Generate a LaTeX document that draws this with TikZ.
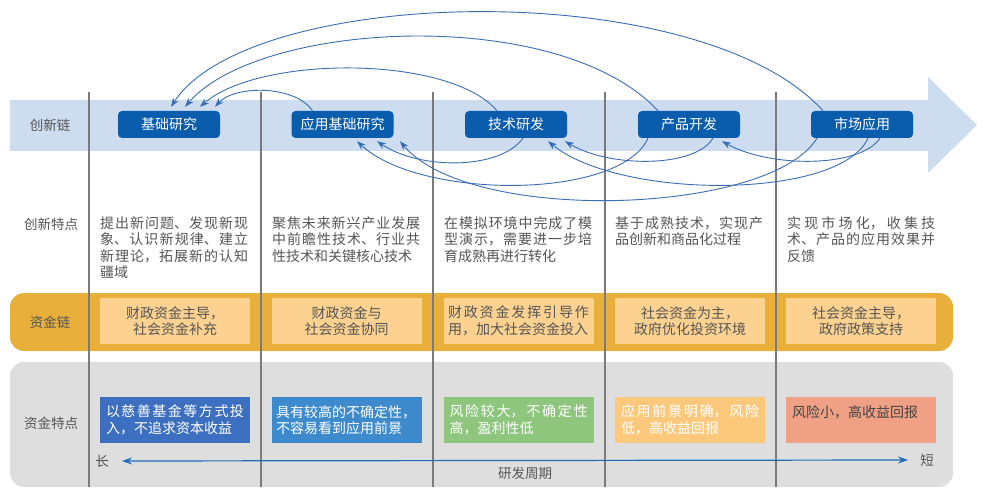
\documentclass[tikz,border=0pt]{standalone}
\usepackage{fontspec}
\setmainfont{Noto Sans CJK SC}
\usetikzlibrary{arrows.meta}
\XeTeXlinebreaklocale "zh"
\XeTeXlinebreakskip=0pt plus 2pt\relax
\tolerance=10000
\hbadness=10000
\hfuzz=3pt
\newcommand\cjknostretch{\XeTeXlinebreakskip=0pt\relax}
\newcommand\cjkstretch{\XeTeXlinebreakskip=0pt plus 2pt\relax}
\definecolor{innoblue}{HTML}{0A5CAD}
\definecolor{bandblue}{HTML}{CDDCEE}
\definecolor{fundorange}{HTML}{E8B03B}
\definecolor{fundlight}{HTML}{FDD290}
\definecolor{graybg}{HTML}{DEDEDE}
\definecolor{vline}{HTML}{7A7A7A}
\definecolor{textgray}{HTML}{555555}
\definecolor{curveblue}{HTML}{3A6DB4}
\definecolor{axisblue}{HTML}{1F6DB8}
\definecolor{fa}{HTML}{3C6FBF}
\definecolor{fb}{HTML}{3D8BCC}
\definecolor{fc}{HTML}{8EC67D}
\definecolor{fd}{HTML}{FCC97C}
\definecolor{fe}{HTML}{F0A185}
\tikzset{
  innobox/.style={fill=innoblue, text=white, rounded corners=4pt, minimum width=102pt,
    minimum height=27pt, inner sep=0pt, font=\fontsize{14}{16.5}\selectfont\cjknostretch},
  rowlabel/.style={text=textgray, inner sep=0pt, font=\fontsize{13.5}{16}\selectfont\cjknostretch},
  coltext/.style={anchor=north west, text width=148pt, align=justify, inner sep=0pt,
    text=textgray, font=\fontsize{14}{16.5}\selectfont\cjkstretch},
  fundbox/.style={fill=fundlight, minimum width=150pt, minimum height=46pt, text width=141pt,
    inner xsep=4.5pt, inner ysep=0pt, align=center, text=textgray,
    font=\fontsize{14}{16.5}\selectfont\cjknostretch},
  fundjust/.style={align=justify, font=\fontsize{14}{16.5}\selectfont\cjkstretch},
  featbox/.style={minimum width=150pt, minimum height=46pt, text width=138pt,
    inner xsep=6pt, inner ysep=0pt, align=justify, font=\fontsize{14}{16.5}\selectfont\cjkstretch},
  flow/.style={draw=curveblue, line width=0.9pt, -{Stealth[length=9pt,width=6.5pt,fill=axisblue]}},
  axisarrow/.style={draw=axisblue, line width=1.2pt, {Stealth[length=10pt,width=7pt]}-{Stealth[length=10pt,width=7pt]}},
  sep/.style={draw=vline, line width=1.1pt}
}
\begin{document}
\begin{tikzpicture}[x=1pt,y=-1pt]
\useasboundingbox (0,0) rectangle (983,500);
% bands
\fill[bandblue] (10,100) -- (928,100) -- (928,77) -- (977,125) -- (928,173) -- (928,151) -- (10,151) -- cycle;
\fill[fundorange, rounded corners=14pt] (10,293) rectangle (953,351);
\fill[graybg, rounded corners=14pt] (10,362) rectangle (953,487);
% separators
\foreach \x in {89,261,433,605,776} \draw[sep] (\x,92) -- (\x,487);
% row labels
\node[rowlabel] (l1) at (50,125) {创新链};
\node[rowlabel] (l2) at (51,224) {创新特点};
\node[rowlabel] (l3) at (50,322) {资金链};
\node[rowlabel] (l4) at (51,423) {资金特点};
% innovation chain
\node[innobox] (n1) at (169,124.5) {基础研究};
\node[innobox] (n2) at (342.5,124.5) {应用基础研究};
\node[innobox] (n3) at (516,124.5) {技术研发};
\node[innobox] (n4) at (689,124.5) {产品开发};
\node[innobox] (n5) at (862,124.5) {市场应用};
% innovation features
\node[coltext] (c1) at (100,216) {提出新问题、发现新现象、认识新规律、建立新理论，拓展新的认知疆域};
\node[coltext] (c2) at (272,216) {聚焦未来新兴产业发展中前瞻性技术、行业共性技术和关键核心技术};
\node[coltext] (c3) at (444,216) {在模拟环境中完成了模型演示，需要进一步培育成熟再进行转化};
\node[coltext] (c4) at (615,216) {基于成熟技术，实现产品创新和商品化过程};
\node[coltext] (c5) at (787,216) {实现市场化，收集技术、产品的应用效果并反馈};
% funding chain
\node[fundbox] (f1) at (175,321) {财政资金主导，\\社会资金补充};
\node[fundbox] (f2) at (346.5,321) {财政资金与\\社会资金协同};
\node[fundbox, fundjust] (f3) at (518.5,321) {财政资金发挥引导作用，加大社会资金投入};
\node[fundbox] (f4) at (690,321) {社会资金为主，\\政府优化投资环境};
\node[fundbox] (f5) at (861,321) {社会资金主导，\\政府政策支持};
% funding features
\node[featbox, fill=fa, text=white] (g1) at (175,420) {以慈善基金等方式投入，不追求资本收益};
\node[featbox, fill=fb, text=white, text width=141pt, inner xsep=4.5pt] (g2) at (346.5,420) {具有较高的不确定性，\\不容易看到应用前景};
\node[featbox, fill=fc, text=white] (g3) at (518.5,420) {风险较大，不确定性高，盈利性低};
\node[featbox, fill=fd, text=white] (g4) at (690,420) {应用前景明确，风险低，高收益回报};
\node[featbox, fill=fe, text=textgray!80!black] (g5) at (861,420) {风险小，高收益回报\par\mbox{}};
% axis
\node[rowlabel] (chang) at (102,461) {长};
\node[rowlabel] (duan) at (927,460) {短};
\node[rowlabel] (zhouqi) at (525,473) {研发周期};
\draw[axisarrow] ([xshift=13pt]chang.east) -- ([xshift=-12pt]duan.west);
% feedback arcs above
\draw[flow] ([xshift=-30pt]n2.north) .. controls (295,85) and (235,85) .. ([xshift=46pt,yshift=4pt]n1.north);
\draw[flow] ([xshift=-19pt]n3.north) .. controls (450,55) and (260,55) .. ([xshift=31pt,yshift=4pt]n1.north);
\draw[flow] ([xshift=-31pt]n4.north) .. controls (560,5) and (260,20) .. ([xshift=16pt,yshift=4pt]n1.north);
\draw[flow] ([xshift=-39pt]n5.north) .. controls (700,-25) and (250,-15) .. ([xshift=2pt,yshift=4pt]n1.north);
% feedback arcs below
\draw[flow] ([xshift=7pt]n3.south) .. controls (500,170) and (420,170) .. ([xshift=34.5pt,yshift=-3pt]n2.south);
\draw[flow] ([xshift=-41pt]n4.south) .. controls (620,200) and (420,200) .. ([xshift=14.5pt,yshift=-3pt]n2.south);
\draw[flow] ([xshift=-45pt]n5.south) .. controls (770,215) and (470,225) .. ([xshift=57.5pt,yshift=-3pt]n2.south);
\draw[flow] ([xshift=24pt]n4.south) .. controls (695,168) and (610,168) .. ([xshift=49pt,yshift=-3pt]n3.south);
\draw[flow] ([xshift=6pt]n5.south) .. controls (840,200) and (620,200) .. ([xshift=32pt,yshift=-3pt]n3.south);
\draw[flow] ([xshift=18pt]n5.south) .. controls (860,168) and (770,168) .. ([xshift=33pt,yshift=-3pt]n4.south);
\end{tikzpicture}
\end{document}
